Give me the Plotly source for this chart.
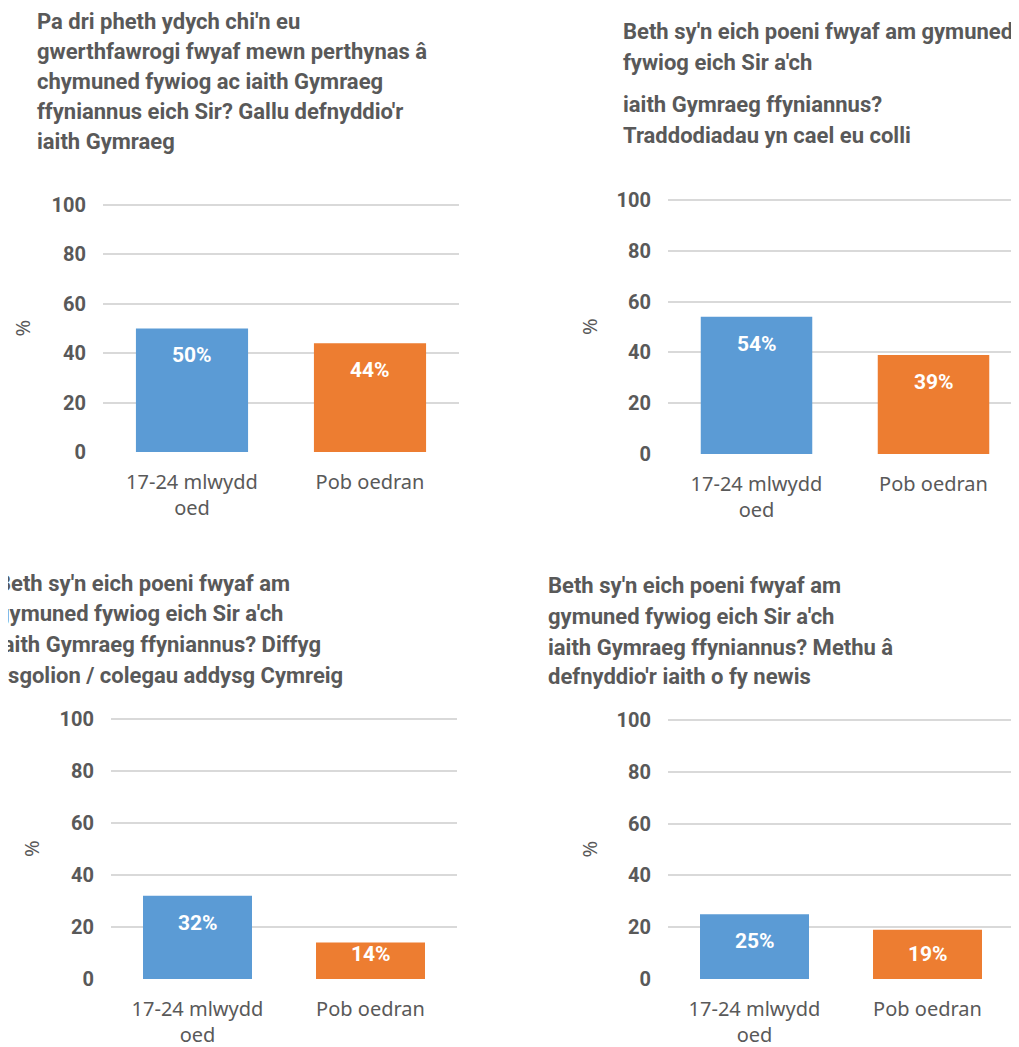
import plotly.graph_objects as go

# The page body has an 8px default margin, so the figure is laid out in
# screen pixels minus that offset.
OFF = 8
W, H = 1019 - OFF, 1047 - OFF

categories = ["17-24 mlwydd<br>oed", "Pob oedran"]
bar_colors = ["#5B9BD5", "#ED7D31"]

values_tl = [50, 44]
values_tr = [54, 39]
values_bl = [32, 14]
values_br = [25, 19]

title_tl = ["Pa dri pheth ydych chi'n eu",
            "gwerthfawrogi fwyaf mewn perthynas â",
            "chymuned fywiog ac iaith Gymraeg",
            "ffyniannus eich Sir? Gallu defnyddio'r",
            "iaith Gymraeg"]
title_tr = ["Beth sy'n eich poeni fwyaf am gymuned",
            "fywiog eich Sir a'ch",
            "iaith Gymraeg ffyniannus?",
            "Traddodiadau yn cael eu colli"]
title_bl = ["Beth sy'n eich poeni fwyaf am",
            "gymuned fywiog eich Sir a'ch",
            "iaith Gymraeg ffyniannus? Diffyg",
            "ysgolion / colegau addysg Cymreig"]
title_br = ["Beth sy'n eich poeni fwyaf am",
            "gymuned fywiog eich Sir a'ch",
            "iaith Gymraeg ffyniannus? Methu â",
            "defnyddio'r iaith o fy newis"]

yticks = [0, 20, 40, 60, 80, 100]

COND = "Liberation Sans Narrow, Roboto, Arial Narrow, sans-serif"
REG = "Noto Sans, Open Sans, sans-serif"
GREY = "#595959"

# panel layout in screen pixels
panels = [
    dict(vals=values_tl, title=title_tl, x0=103, x1=459, yt=205, yb=452, xend=1.5,
         tx=35, ty=[22, 52, 82, 112, 142], px=22),
    dict(vals=values_tr, title=title_tr, x0=668, x1=1019, yt=200, yb=454, xend=1.483,
         tx=621, ty=[31, 62, 104, 136], px=589),
    dict(vals=values_bl, title=title_bl, x0=111, x1=457, yt=719, yb=979, xend=1.5,
         tx=-5, ty=[583, 613, 644, 675], px=31),
    dict(vals=values_br, title=title_br, x0=668, x1=1014, yt=720, yb=979, xend=1.5,
         tx=546, ty=[585, 616, 647, 676], px=589),
]


def fx(px):
    return (px - OFF) / W


def fy(py):
    return 1 - (py - OFF) / H


YMAX = 100.6  # a little headroom so the 100 gridline is drawn

fig = go.Figure()
annotations = []

for i, p in enumerate(panels, start=1):
    xa = "x" if i == 1 else f"x{i}"
    ya = "y" if i == 1 else f"y{i}"
    fig.add_trace(go.Bar(
        x=categories, y=p["vals"], marker=dict(color=bar_colors, line=dict(width=0)),
        xaxis=xa, yaxis=ya, showlegend=False, hoverinfo="x+y",
    ))
    ppu = (p["yb"] - p["yt"]) / 100.0
    ytop = p["yt"] - (YMAX - 100) * ppu
    xkey = "xaxis" if i == 1 else f"xaxis{i}"
    ykey = "yaxis" if i == 1 else f"yaxis{i}"
    fig.update_layout(**{
        xkey: dict(domain=[fx(p["x0"]), min(1.0, fx(p["x1"]))], anchor=ya,
                   range=[-0.5, p["xend"]], automargin=False,
                   showgrid=False, showline=False, zeroline=False, ticks="",
                   tickfont=dict(family=REG, size=20, color=GREY),
                   ticklabelstandoff=16, fixedrange=True),
        ykey: dict(domain=[fy(p["yb"]), fy(ytop)], anchor=xa, range=[0, YMAX],
                   automargin=False,
                   tickvals=yticks, showgrid=True, gridcolor="#D9D9D9", gridwidth=1.5,
                   zeroline=False, showline=False, ticks="",
                   tickfont=dict(family=COND, size=20, color=GREY, weight="bold"),
                   ticklabelstandoff=16, fixedrange=True),
    })
    # value labels, positioned through the axis scale near the top of each bar
    for c, v in zip(categories, p["vals"]):
        shift = -min(27, v * ppu - 25)
        annotations.append(dict(
            x=c, y=v, xref=xa, yref=ya, text=f"{v}%", showarrow=False,
            yanchor="middle", yshift=shift,
            font=dict(family=COND, size=21, color="white", weight="bold"),
        ))
    # titles
    for line, cy in zip(p["title"], p["ty"]):
        annotations.append(dict(
            x=fx(p["tx"]), y=fy(cy), xref="paper", yref="paper", text=line,
            showarrow=False, xanchor="left", yanchor="middle",
            font=dict(family=COND, size=22, color=GREY, weight="bold"),
        ))
    # axis "%" label
    annotations.append(dict(
        x=fx(p["px"]), y=fy((p["yt"] + p["yb"]) / 2), xref="paper", yref="paper",
        text="%", showarrow=False, textangle=-90, xanchor="center", yanchor="middle",
        font=dict(family=REG, size=20, color=GREY),
    ))

fig.update_layout(
    width=W, height=H, margin=dict(l=0, r=0, t=0, b=0, autoexpand=False),
    paper_bgcolor="white", plot_bgcolor="white",
    bargap=0.37, annotations=annotations,
)

fig.write_html("out.html")
